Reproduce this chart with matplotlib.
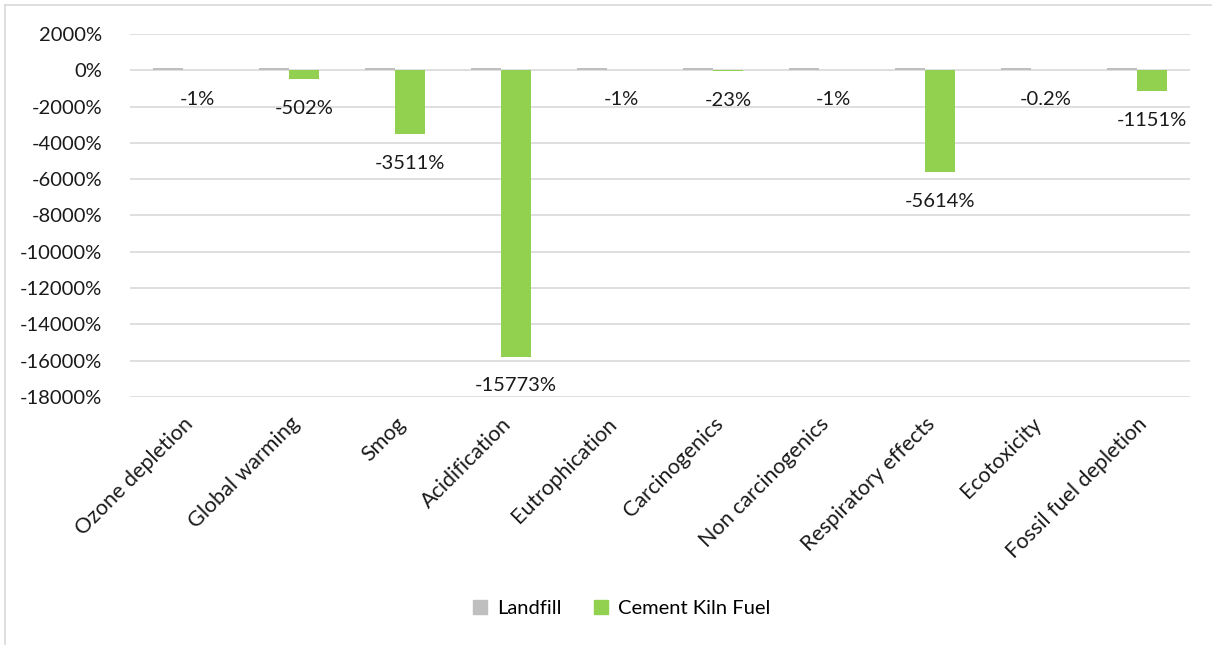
import numpy as np
import matplotlib.pyplot as plt
from matplotlib.lines import Line2D

categories = ["Ozone depletion", "Global warming", "Smog", "Acidification",
              "Eutrophication", "Carcinogenics", "Non carcinogenics",
              "Respiratory effects", "Ecotoxicity", "Fossil fuel depletion"]
landfill = [100, 100, 100, 100, 100, 100, 100, 100, 100, 100]
cement_kiln = [-1, -502, -3511, -15773, -1, -23, -1, -5614, -0.2, -1151]
yticks = list(range(-18000, 2001, 2000))

plt.rcParams['font.family'] = ['Lato', 'DejaVu Sans']
fs = 14.5

fig = plt.figure(figsize=(12.12, 6.45), dpi=100)
ax = fig.add_axes([130 / 1212, 1 - 397 / 645, 1060 / 1212, 363 / 645])

x = np.arange(len(categories))
w = 0.28
ax.bar(x - w / 2, landfill, w, color='#bfbfbf', label='Landfill', zorder=3)
ax.bar(x + w / 2, cement_kiln, w, color='#92d050', label='Cement Kiln Fuel', zorder=3)

for xi, v in zip(x, cement_kiln):
    ax.annotate(f"{v:g}%", (xi + w / 2, min(v, 0)), xytext=(0, -15),
                textcoords='offset points', ha='center', va='top',
                fontsize=fs, color='#1a1a1a')

ax.set_xlim(-0.5, len(categories) - 0.5)
ax.set_ylim(-18000, 2000)
ax.set_yticks(yticks)
ax.set_yticklabels([f"{t}%" for t in yticks], fontsize=fs, color='#1a1a1a')
ax.set_xticks(x)
ax.set_xticklabels(categories, rotation=45, ha='right', rotation_mode='anchor',
                   fontsize=15.5, color='#1a1a1a')
ax.tick_params(axis='both', length=0)
ax.tick_params(axis='y', pad=20)
ax.tick_params(axis='x', pad=12)
ax.grid(axis='y', color='#d9d9d9', linewidth=1.2, zorder=0)
for s in ax.spines.values():
    s.set_visible(False)

handles = [Line2D([], [], marker='s', linestyle='', color='#bfbfbf', markersize=10),
           Line2D([], [], marker='s', linestyle='', color='#92d050', markersize=10)]
fig.legend(handles, ['Landfill', 'Cement Kiln Fuel'], loc='center',
           bbox_to_anchor=(618 / 1212, 1 - 608 / 645), ncol=2, frameon=False,
           fontsize=fs, handletextpad=0.1, columnspacing=1.2, handlelength=1.5)

fig.add_artist(Line2D([5 / 1212, 5 / 1212], [0, 1 - 5 / 645], color='#d9d9d9', lw=1.2))
fig.add_artist(Line2D([5 / 1212, 1], [1 - 5 / 645, 1 - 5 / 645], color='#d9d9d9', lw=1.2))

fig.savefig('out.png', dpi=100)
